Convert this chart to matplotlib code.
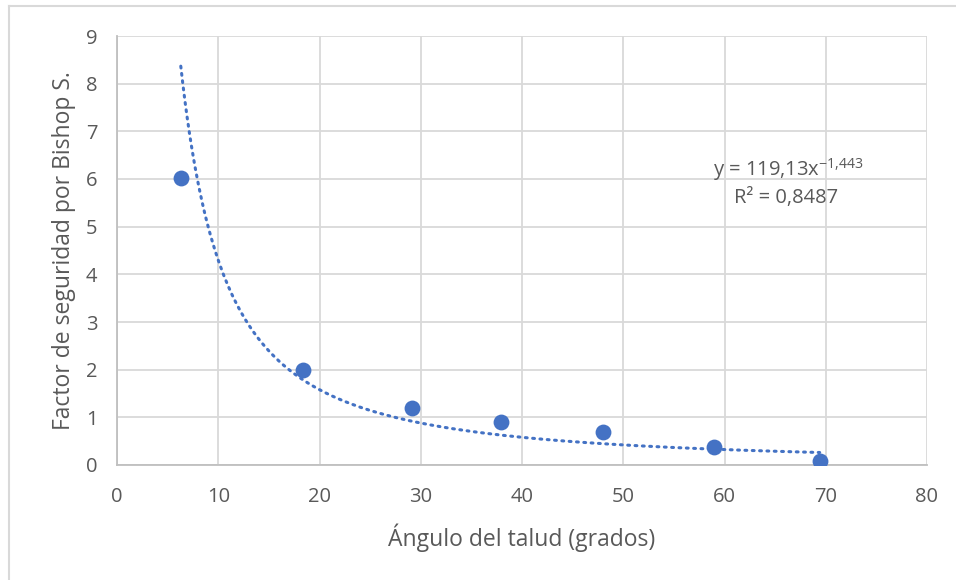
import matplotlib

matplotlib.use("Agg")
import matplotlib.pyplot as plt
import numpy as np
from matplotlib.lines import Line2D

# Datos
angulo = [6.3, 18.4, 29.1, 37.9, 48.0, 59.0, 69.4]
factor = [6.02, 2.0, 1.2, 0.9, 0.69, 0.37, 0.09]

# Linea de tendencia potencial (Excel): y = a * x^b
coef_a = 119.13
coef_b = -1.443
r2 = 0.8487

AZUL = "#4472c4"
GRIS_TEXTO = "#595959"
GRID = "#d9d9d9"

plt.rcParams["font.family"] = ["Open Sans", "DejaVu Sans"]
plt.rcParams["mathtext.fontset"] = "custom"
plt.rcParams["mathtext.rm"] = "Open Sans"
plt.rcParams["axes.unicode_minus"] = False

fig = plt.figure(figsize=(9.56, 5.8), dpi=100)
ax = fig.add_axes([117 / 956, 1 - 465 / 580, (927 - 117) / 956, (465 - 36) / 580])

x_tend = np.linspace(min(angulo), max(angulo), 300)
y_tend = coef_a * x_tend ** coef_b
ax.plot(x_tend, y_tend, color=AZUL, linewidth=2.2, linestyle=(0, (0.6, 1.8)),
        dash_capstyle="round", zorder=2)
ax.scatter(angulo, factor, s=130, color=AZUL, zorder=3, linewidths=0)

ax.set_xlim(0, 80)
ax.set_ylim(0, 9)
ax.set_xticks(range(0, 81, 10))
ax.set_yticks(range(0, 10))
ax.grid(True, color=GRID, linewidth=1.3)
ax.set_axisbelow(True)
for lado in ["top", "right"]:
    ax.spines[lado].set_visible(False)
for lado in ["left", "bottom"]:
    ax.spines[lado].set_color("#bfbfbf")
    ax.spines[lado].set_linewidth(1.3)
ax.tick_params(length=0, labelsize=14.5, labelcolor=GRIS_TEXTO)
ax.tick_params(axis="x", pad=16)
ax.tick_params(axis="y", pad=14)

ax.set_xlabel("Ángulo del talud (grados)", fontsize=16.5, color=GRIS_TEXTO, labelpad=12)
ax.set_ylabel("Factor de seguridad por Bishop S.", fontsize=16.5, color=GRIS_TEXTO, labelpad=7)

txt_b = f"{coef_b:.3f}".replace(".", "{,}")
txt_a = f"{coef_a:.2f}".replace(".", ",")
ax.text(58.9, 6.2, f"y = {txt_a}x" + r"$^{\mathrm{" + txt_b + "}}$", fontsize=14.5,
        color=GRIS_TEXTO, ha="left", va="center")
ax.text(60.9, 5.6, f"R² = {r2:.4f}".replace(".", ","), fontsize=14.5,
        color=GRIS_TEXTO, ha="left", va="center")

# Borde del area del grafico (solo izquierda y arriba visibles)
fig.add_artist(Line2D([9 / 956, 9 / 956], [0, 1 - 6 / 580], color="#d9d9d9", linewidth=1.5,
                      transform=fig.transFigure))
fig.add_artist(Line2D([9 / 956, 1], [1 - 6 / 580, 1 - 6 / 580], color="#d9d9d9", linewidth=1.5,
                      transform=fig.transFigure))

fig.savefig("out.png", dpi=100)
